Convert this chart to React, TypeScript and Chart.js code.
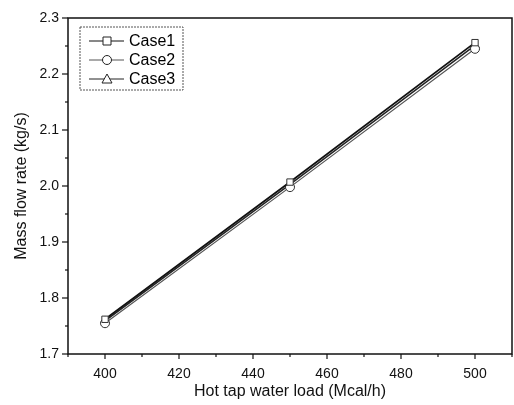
import React, { useEffect, useRef } from "react";
import { Chart, registerables } from "chart.js";
Chart.register(...registerables);

const loads = [400, 450, 500];
const case1 = [1.762, 2.007, 2.256];
const case2 = [1.755, 1.998, 2.245];
const case3 = [1.759, 2.003, 2.251];
const seriesNames = ["Case1", "Case2", "Case3"];
const xTickValues = [400, 420, 440, 460, 480, 500];
const xTitle = "Hot tap water load (Mcal/h)";
const yTitle = "Mass flow rate (kg/s)";

const FONT = "'Liberation Sans', Arial, sans-serif";

const framePlugin = {
  id: "frame",
  afterDraw(chart: any) {
    const { ctx, chartArea: a, scales } = chart;
    ctx.save();
    ctx.strokeStyle = "#111";
    ctx.lineWidth = 1.5;
    ctx.strokeRect(a.left, a.top, a.right - a.left, a.bottom - a.top);
    ctx.lineWidth = 1.2;
    const xs = scales.x, ys = scales.y;
    for (let v = 390; v <= 510; v += 10) {
      const px = xs.getPixelForValue(v);
      const major = v % 20 === 0;
      ctx.beginPath();
      ctx.moveTo(px, a.bottom);
      ctx.lineTo(px, a.bottom + (major ? 5 : 3));
      ctx.stroke();
    }
    for (let i = 0; i <= 12; i++) {
      const v = 1.7 + i * 0.05;
      const py = ys.getPixelForValue(v);
      const major = i % 2 === 0;
      ctx.beginPath();
      ctx.moveTo(a.left, py);
      ctx.lineTo(a.left - (major ? 6 : 3), py);
      ctx.stroke();
    }
    // legend
    const lx = 80, ly = 27, lw = 103, lh = 63;
    ctx.strokeStyle = "#555";
    ctx.lineWidth = 1;
    ctx.setLineDash([2, 1]);
    ctx.strokeRect(lx, ly, lw, lh);
    ctx.setLineDash([]);
    ctx.font = `16px ${FONT}`;
    ctx.textBaseline = "middle";
    const styles = ["rect", "circle", "triangle"];
    chart.data.datasets.forEach((ds: any, i: number) => {
      const cy = ly + 14 + i * 19;
      ctx.strokeStyle = ds.borderColor;
      ctx.lineWidth = 1;
      ctx.beginPath();
      ctx.moveTo(lx + 9, cy);
      ctx.lineTo(lx + 44, cy);
      ctx.stroke();
      ctx.fillStyle = "#fff";
      ctx.strokeStyle = "#222";
      const mx = lx + 27;
      ctx.beginPath();
      if (styles[i] === "rect") ctx.rect(mx - 4, cy - 4, 8, 8);
      else if (styles[i] === "circle") ctx.arc(mx, cy, 4.5, 0, Math.PI * 2);
      else { ctx.moveTo(mx, cy - 5); ctx.lineTo(mx + 5, cy + 4); ctx.lineTo(mx - 5, cy + 4); ctx.closePath(); }
      ctx.fill();
      ctx.stroke();
      ctx.fillStyle = "#000";
      ctx.fillText(ds.label, lx + 49, cy + 1);
    });
    ctx.restore();
  },
};

export default function App() {
  const ref = useRef<HTMLCanvasElement>(null);
  useEffect(() => {
    document.body.style.margin = "0";
    const mk = (data: number[]) => loads.map((x, i) => ({ x, y: data[i] }));
    const chart = new Chart(ref.current!, {
      type: "line",
      data: {
        datasets: [
          { label: seriesNames[0], data: mk(case1), borderColor: "#111", borderWidth: 1.8, pointStyle: "rect", pointRadius: 4.5, pointBackgroundColor: "#fff", pointBorderColor: "#333", pointBorderWidth: 1 },
          { label: seriesNames[1], data: mk(case2), borderColor: "#555", borderWidth: 1.2, pointStyle: "circle", pointRadius: 4.5, pointBackgroundColor: "#fff", pointBorderColor: "#333", pointBorderWidth: 1 },
          { label: seriesNames[2], data: mk(case3), borderColor: "#222", borderWidth: 1.5, pointStyle: "triangle", pointRadius: 5, pointBackgroundColor: "#fff", pointBorderColor: "#333", pointBorderWidth: 1 },
        ],
      },
      options: {
        animation: false,
        responsive: false,
        layout: { autoPadding: false, padding: { top: 18, right: 2, left: 8, bottom: 0 } },
        plugins: { legend: { display: false }, tooltip: { enabled: false } },
        scales: {
          x: {
            type: "linear",
            min: 390,
            max: 510,
            grid: { display: false, drawTicks: false },
            border: { display: false },
            afterBuildTicks: (s: any) => { s.ticks = xTickValues.map((v) => ({ value: v })); },
            ticks: { padding: 12, color: "#111", maxRotation: 0, autoSkip: false, font: { family: FONT, size: 14 } },
            title: { display: true, text: xTitle, color: "#111", font: { family: FONT, size: 16 }, padding: { top: 10 } },
            afterFit: (s: any) => { s.height = 51; s.paddingRight = 0; s.paddingLeft = 0; },
          },
          y: {
            min: 1.7,
            max: 2.3,
            grid: { display: false, drawTicks: false },
            border: { display: false },
            ticks: { stepSize: 0.1, padding: 9, color: "#111", font: { family: FONT, size: 14 }, callback: (v: any) => Number(v).toFixed(1) },
            title: { display: true, text: yTitle, color: "#111", font: { family: FONT, size: 16 } },
            afterFit: (s: any) => { s.width = 60; s.paddingTop = 0; s.paddingBottom = 0; },
          },
        },
      },
      plugins: [framePlugin],
    });
    return () => chart.destroy();
  }, []);
  return (
    <div style={{ width: 514, height: 405, background: "#fff" }}>
      <canvas ref={ref} width={514} height={405} />
    </div>
  );
}
